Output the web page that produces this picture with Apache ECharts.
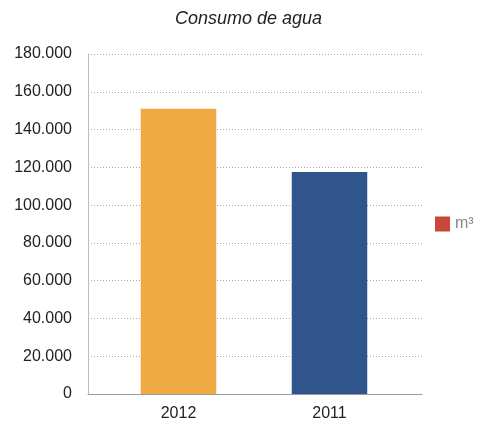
<!DOCTYPE html>
<html>
<head>
<meta charset="utf-8">
<script src="https://cdn.jsdelivr.net/npm/echarts@6/dist/echarts.min.js"></script>
<style>
    html, body { margin: 0; padding: 0; background: #fff; }
    #chart { width: 479px; height: 424px; }
</style>
</head>
<body>
<div id="chart"></div>
<script>
// datos del gráfico
const years = ['2012', '2011'];
const consumo = [151000, 117500];
const barColors = ['#F0AA44', '#30548C'];
const unidad = 'm³';

const fmt = (v) => String(v).replace(/\B(?=(\d{3})+(?!\d))/g, '.');

const chart = echarts.init(document.getElementById('chart'));
const font = 'Liberation Sans';

let option = {
    animation: false,
    title: {
        text: 'Consumo de agua',
        left: 170,
        top: 5,
        textStyle: {
            fontFamily: font,
            fontStyle: 'italic',
            fontWeight: 'normal',
            fontSize: 18,
            color: '#222'
        }
    },
    legend: {
        left: 430,
        top: 211,
        itemWidth: 15,
        itemHeight: 15,
        icon: 'rect',
        data: [unidad],
        textStyle: { fontFamily: font, fontSize: 16, color: '#888' }
    },
    // grid 0: marco del eje y líneas; grid 1: barras (algo más estrecho, como en el original)
    grid: [
        { left: 88, right: 57, top: 54, bottom: 30 },
        { left: 103, right: 74, top: 54, bottom: 30 }
    ],
    xAxis: [
        {
            gridIndex: 0,
            type: 'category',
            data: [''],
            axisLine: { lineStyle: { color: '#999' } },
            axisTick: { show: false },
            axisLabel: { show: false }
        },
        {
            gridIndex: 1,
            type: 'category',
            data: years,
            axisLine: { show: false },
            axisTick: { show: false },
            axisLabel: { fontFamily: font, fontSize: 16, color: '#222', margin: 12 }
        }
    ],
    yAxis: [
        {
            gridIndex: 0,
            type: 'value',
            min: 0,
            max: 180000,
            interval: 20000,
            axisLine: { show: true, lineStyle: { color: '#bbb' } },
            axisTick: { show: false },
            axisLabel: {
                fontFamily: font, fontSize: 16, color: '#222', margin: 16,
                formatter: fmt
            },
            splitLine: { lineStyle: { color: '#aaa', type: [1, 2] } }
        },
        {
            gridIndex: 1,
            type: 'value',
            min: 0,
            max: 180000,
            interval: 20000,
            show: false
        }
    ],
    series: [
        {
            name: unidad,
            type: 'bar',
            xAxisIndex: 1,
            yAxisIndex: 1,
            barWidth: '50%',
            itemStyle: { color: '#C9483A' },
            data: consumo.map((v, i) => ({ value: v, itemStyle: { color: barColors[i] } }))
        }
    ]
};

chart.setOption(option);
</script>
</body>
</html>
